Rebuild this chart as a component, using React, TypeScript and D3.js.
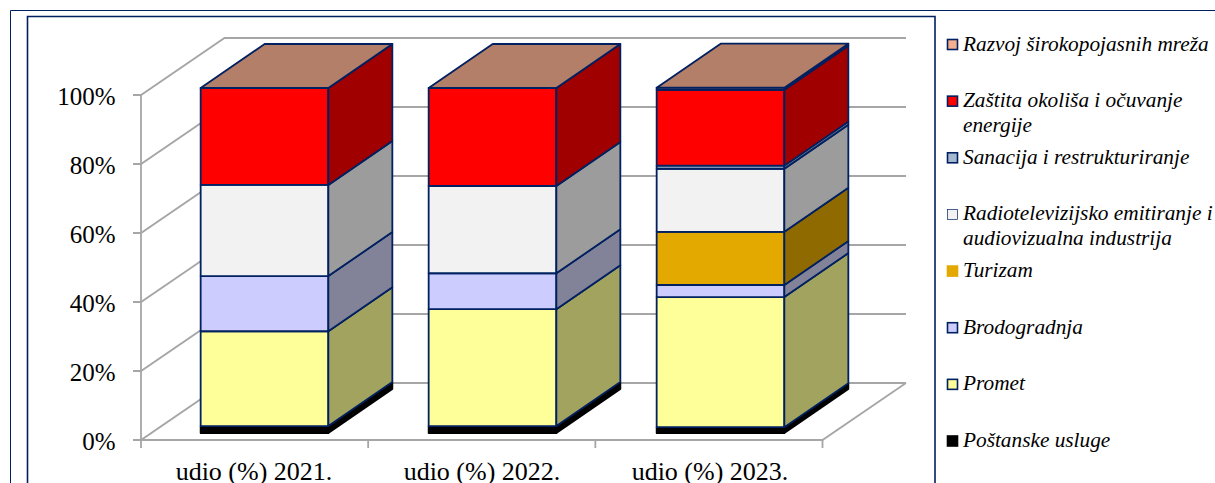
import { useEffect, useRef } from "react";

import * as d3 from "d3";

const categories = ["udio (%) 2021.", "udio (%) 2022.", "udio (%) 2023."];

// stack order, bottom to top
const seriesNames = [
  "Poštanske usluge",
  "Promet",
  "Brodogradnja",
  "Turizam",
  "Radiotelevizijsko emitiranje i audiovizualna industrija",
  "Sanacija i restrukturiranje",
  "Zaštita okoliša i očuvanje energije",
  "Razvoj širokopojasnih mreža",
];
const postal = [2, 2, 1.7];
const transport = [27.5, 33.9, 37.7];
const shipbuilding = [16, 10.4, 3.5];
const tourism = [0, 0, 15.4];
const broadcasting = [26.4, 25.3, 18.3];
const restructuring = [0, 0, 0.9];
const environment = [28.1, 28.4, 22];
const broadband = [0, 0, 0.6];
const seriesValues = [
  postal,
  transport,
  shipbuilding,
  tourism,
  broadcasting,
  restructuring,
  environment,
  broadband,
];

const frontColors = ["#000000", "#ffff99", "#ccccff", "#e3a900", "#f2f2f2", "#a6b7d0", "#ff0000", "#f4ae90"];
const sideColors = ["#000000", "#a3a360", "#828299", "#8f6a00", "#9c9c9c", "#6a7590", "#a00000", "#b47f68"];

// legend lines, top to bottom (wrapped as in the picture)
const legendLines = [
  ["Razvoj širokopojasnih mreža"],
  ["Zaštita okoliša i očuvanje", "energije"],
  ["Sanacija i restrukturiranje"],
  ["Radiotelevizijsko emitiranje i", "audiovizualna industrija"],
  ["Turizam"],
  ["Brodogradnja"],
  ["Promet"],
  ["Poštanske usluge"],
];

const yTicks = [0, 20, 40, 60, 80, 100];

const App = () => {
  const ref = useRef<SVGSVGElement>(null);

  useEffect(() => {
    draw();
  }, []);

  const draw = () => {
    const width = 1215;
    const height = 483;
    const navy = "#002060";
    const grid = "#a6a6a6";
    const font = "'Liberation Serif', serif";

    const svg = d3.select(ref.current);
    svg.selectAll("*").remove();

    // outer frames
    svg
      .append("path")
      .attr("d", `M10.5,${height}V10.5H${width}`)
      .attr("fill", "none")
      .attr("stroke", navy)
      .attr("stroke-width", 1);
    svg
      .append("path")
      .attr("d", `M27.5,${height}V16.5H935V${height}`)
      .attr("fill", "none")
      .attr("stroke", navy)
      .attr("stroke-width", 1.6);

    const floorRight = 822.5;
    const yScale = d3.scaleLinear().domain([0, 100]).range([440, 95]);
    const xScale = d3.scaleBand().domain(categories).range([141, 825]).paddingInner(0.44).paddingOuter(0.22);

    // depth of the plot box and of the bars
    const wall = { x: 83.5, y: -57 };
    const barShift = { x: 9.5, y: -7 };
    const barDepth = { x: 64, y: -44 };

    const chart = svg.append("g");

    // back wall and side wall gridlines
    const gridG = chart
      .append("g")
      .attr("stroke", grid)
      .attr("stroke-width", 1.8)
      .attr("fill", "none");
    yTicks.forEach((t) => {
      const y = yScale(t);
      gridG
        .append("path")
        .attr("d", `M133,${y}H141L${141 + wall.x},${y + wall.y}H${floorRight + wall.x}`);
    });
    gridG.append("path").attr("d", `M141,${yScale(100)}V${yScale(0)}H${floorRight}L${floorRight + wall.x},${yScale(0) + wall.y}`);
    [0, 1, 2, 3].forEach((i) => {
      const x = 141 + (i * (floorRight - 141)) / 3;
      gridG.append("path").attr("d", `M${x},${yScale(0)}v8`);
    });

    // bars
    categories.forEach((cat, c) => {
      const x0 = (xScale(cat) as number) + barShift.x;
      const x1 = x0 + xScale.bandwidth();
      const barG = chart.append("g").attr("stroke", navy).attr("stroke-width", 1.8).attr("stroke-linejoin", "round");
      let acc = 0;
      seriesValues.forEach((values, s) => {
        const v = values[c];
        const yBottom = yScale(acc) + barShift.y;
        const yTop = yScale(acc + v) + barShift.y;
        acc += v;
        if (v > 0) {
          barG
            .append("rect")
            .attr("x", x0)
            .attr("y", yTop)
            .attr("width", x1 - x0)
            .attr("height", yBottom - yTop)
            .attr("fill", frontColors[s])
            .attr("stroke", s === 0 ? "#000" : navy);
          barG
            .append("path")
            .attr(
              "d",
              `M${x1},${yBottom}L${x1 + barDepth.x},${yBottom + barDepth.y}V${yTop + barDepth.y}L${x1},${yTop}Z`
            )
            .attr("fill", sideColors[s])
            .attr("stroke", s === 0 ? "#000" : navy);
        }
      });
      // top face always carries the last series' colour
      const yT = yScale(acc) + barShift.y;
      barG
        .append("path")
        .attr(
          "d",
          `M${x0},${yT}H${x1}L${x1 + barDepth.x},${yT + barDepth.y}H${x0 + barDepth.x}Z`
        )
        .attr("fill", sideColors[7]);
    });

    // axis labels
    const labelG = svg
      .append("g")
      .attr("font-family", font)
      .attr("fill", "#000");
    yTicks.forEach((t) => {
      labelG
        .append("text")
        .attr("x", 115.5)
        .attr("y", yScale(t) + 9.5)
        .attr("font-size", 25)
        .attr("text-anchor", "end")
        .text(`${t}%`);
    });
    categories.forEach((cat) => {
      labelG
        .append("text")
        .attr("x", (xScale(cat) as number) + xScale.bandwidth() / 2 - 1)
        .attr("y", 480)
        .attr("font-size", 26)
        .attr("text-anchor", "middle")
        .text(cat);
    });

    // legend
    const legendY = d3.scaleLinear().domain([0, 7]).range([44.5, 441]);
    const legendG = svg.append("g");
    legendLines.forEach((lines, i) => {
      const s = seriesNames.length - 1 - i;
      const y = legendY(i);
      legendG
        .append("rect")
        .attr("x", 947.5)
        .attr("y", y - 5)
        .attr("width", 10)
        .attr("height", 10)
        .attr("fill", frontColors[s])
        .attr("stroke", s === 0 || s === 3 ? frontColors[s] : navy)
        .attr("stroke-width", s === 4 ? 0.7 : 1.6);
      lines.forEach((line, l) => {
        legendG
          .append("text")
          .attr("x", 963)
          .attr("y", y + 6 + l * 24.5)
          .attr("font-family", font)
          .attr("font-style", "italic")
          .attr("font-size", 21.3)
          .attr("fill", "#000")
          .text(line);
      });
    });
  };

  return (
    <svg
      ref={ref}
      width={1215}
      height={483}
      style={{ position: "absolute", left: 0, top: 0, display: "block", background: "#fff" }}
    ></svg>
  );
};

export default App;
